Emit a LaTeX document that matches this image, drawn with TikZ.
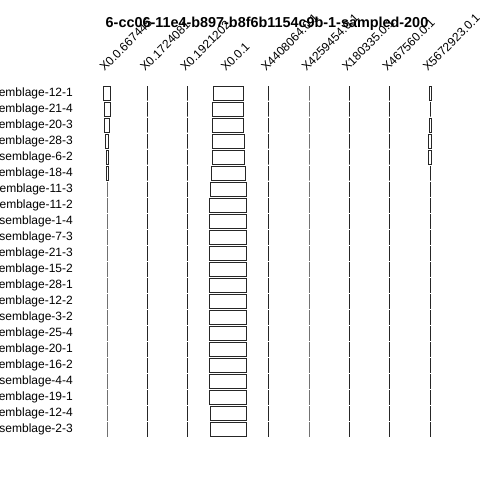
\documentclass[tikz,border=0pt]{standalone}
\usepackage{fontspec}
\setmainfont{Liberation Sans}
\newcommand\cellbox[3]{%
  \draw[cell] ({#1-#3/2},{93.4+16*(#2-1)-7.35}) rectangle ({#1+#3/2},{93.4+16*(#2-1)+7.35});}
\begin{document}
\begin{tikzpicture}[x=1bp,y=-1bp,
  cell/.style={draw=black!85,line width=0.9bp},
  rowlab/.style={anchor=east,font=\fontsize{12bp}{14bp}\selectfont,inner sep=0pt},
  collab/.style={anchor=base west,rotate=45,font=\fontsize{12bp}{14bp}\selectfont,inner sep=0pt},
  titlestyle/.style={anchor=base,font=\bfseries\fontsize{14.4bp}{17bp}\selectfont,inner sep=0pt}]
\useasboundingbox[fill=white] (0,0) rectangle (480,480);
% title
\node[titlestyle] (title) at (267,28) {6-cc06-11e4-b897-b8f6b1154c9b-1-sampled-200};
% column labels
\foreach \cx/\lab [count=\i] in {107/X0.0.667445,147.4/X0.1724081,187.8/X0.1921202,228.2/X0.0.1,268.6/X4408064.0.1,309/X4259454.0.1,349.4/X180335.0.1,389.8/X467560.0.1,430.2/X5672923.0.1}
  \node[collab] (col\i) at (\cx-2.5,72) {\lab};
% row labels
\foreach \lab [count=\r] in {Assemblage-12-1,Assemblage-21-4,Assemblage-20-3,Assemblage-28-3,Assemblage-6-2,Assemblage-18-4,Assemblage-11-3,Assemblage-11-2,Assemblage-1-4,Assemblage-7-3,Assemblage-21-3,Assemblage-15-2,Assemblage-28-1,Assemblage-12-2,Assemblage-3-2,Assemblage-25-4,Assemblage-20-1,Assemblage-16-2,Assemblage-4-4,Assemblage-19-1,Assemblage-12-4,Assemblage-2-3}
  \node[rowlab] (row\r) at (73,{93.4+16*(\r-1)}) {\lab};
% thin columns
\foreach \r in {1,...,22}{
  \foreach \cx in {147.4,187.8,268.6,309,349.4,389.8}{\cellbox{\cx}{\r}{0}}}
% column 1
\foreach \r/\w in {1/7,2/6,3/5,4/3,5/2,6/2}{\cellbox{107}{\r}{\w}}
\foreach \r in {7,...,22}{\cellbox{107}{\r}{0}}
% column 4
\foreach \r/\w in {1/30,2/30.6,3/30.6,4/31.7,5/32.3,6/34.3,7/36.3,21/36,22/36}{\cellbox{228.2}{\r}{\w}}
\foreach \r in {8,...,20}{\cellbox{228.2}{\r}{36.6}}
% column 9
\foreach \r/\w in {1/2,3/2,4/3,5/3}{\cellbox{430.2}{\r}{\w}}
\foreach \r in {2,6,7,...,22}{\cellbox{430.2}{\r}{0}}
\end{tikzpicture}
\end{document}
